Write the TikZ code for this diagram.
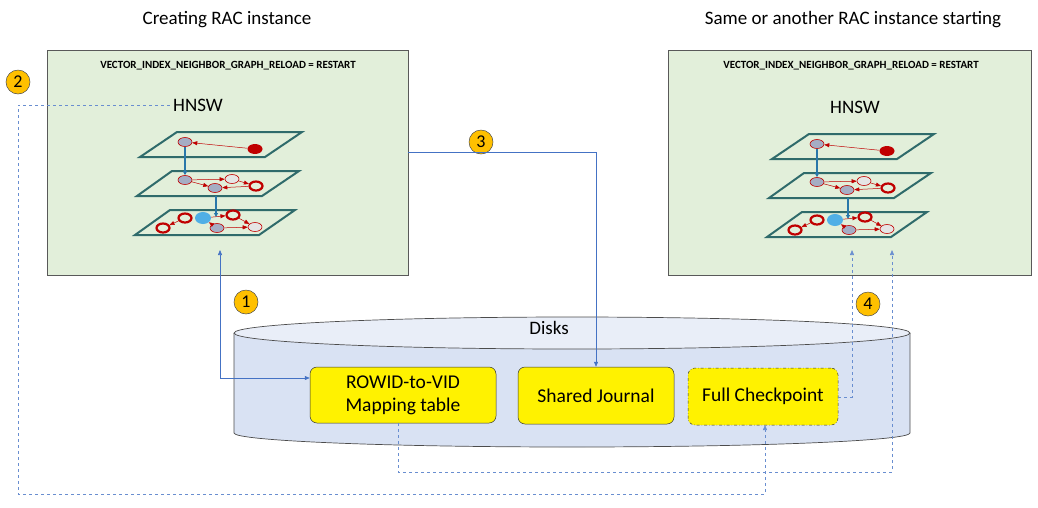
\documentclass[tikz,border=0pt]{standalone}
\usepackage{fontspec}
\setmainfont{Carlito}
\usetikzlibrary{arrows.meta,shapes.geometric,positioning}
\definecolor{boxgreen}{HTML}{E2EFDA}
\definecolor{linkblue}{HTML}{4472C4}
\definecolor{layerteal}{HTML}{2F6B6B}
\definecolor{diskbody}{HTML}{D9E2F3}
\definecolor{disktop}{HTML}{E9EEF8}
\definecolor{badge}{HTML}{FFC000}
\definecolor{vred}{HTML}{C00000}
\definecolor{vgrayfill}{HTML}{A5ADC4}
\tikzset{
  instance/.style={draw=gray!70!black,fill=boxgreen,line width=0.6pt},
  layer/.style={draw=layerteal,line width=2pt},
  vgray/.style={ellipse,draw=vred,fill=vgrayfill,minimum width=14pt,minimum height=9pt,inner sep=0pt,line width=0.6pt},
  vlight/.style={vgray,fill=gray!20},
  vring/.style={ellipse,draw=vred,line width=2.2pt,minimum width=13pt,minimum height=9pt,inner sep=0pt},
  vfull/.style={ellipse,fill=vred,minimum width=15pt,minimum height=10pt,inner sep=0pt},
  vcyan/.style={ellipse,fill=cyan!80!blue!70,minimum width=16pt,minimum height=12pt,inner sep=0pt},
  edge/.style={draw=vred,line width=0.5pt,-{Triangle[length=5pt,width=4pt]}},
  down/.style={draw=linkblue!60!teal,line width=1.2pt,-{Triangle[length=4pt,width=4pt]}},
  badgenum/.style={circle,fill=badge,draw=gray!60!black,line width=0.5pt,minimum size=24pt,inner sep=0pt,font=\fontsize{18}{18}\selectfont},
  store/.style={draw=black!80,fill=yellow,rounded corners=7pt,align=center,font=\fontsize{19.5}{23}\selectfont,line width=0.5pt},
  link/.style={draw=linkblue,line width=0.6pt,-{Triangle[length=5pt,width=4pt]}},
  dlink/.style={link,dashed,draw=linkblue!80},
  big/.style={font=\fontsize{19}{22}\selectfont}
}
\begin{document}
\begin{tikzpicture}[x=1pt,y=-1pt]
\useasboundingbox (0,0) rectangle (1038,507);
% instance boxes
\draw[instance] (47,50) rectangle (408,275);
\draw[instance] (668,50) rectangle (1031,275);
\node[big] (title1) at (227,20) {Creating RAC instance};
\node[big] (title2) at (853,20) {Same or another RAC instance starting};
\node[font=\fontsize{11}{12}\bfseries\selectfont] (param1) at (228,66) {VECTOR\_INDEX\_NEIGHBOR\_GRAPH\_RELOAD = RESTART};
\node[font=\fontsize{11}{12}\bfseries\selectfont] (param2) at (851,66) {VECTOR\_INDEX\_NEIGHBOR\_GRAPH\_RELOAD = RESTART};
\node[big] (hnsw1) at (198,105) {HNSW};
\node[big] (hnsw2) at (855,107) {HNSW};

% HNSW layers
\foreach \dx/\dy/\n in {0/0/a,632/2/b}{
  \begin{scope}[shift={(\dx,\dy)}]
    \draw[layer] (177,132) -- (302,132) -- (265,157) -- (140,157) -- cycle;
    \draw[layer] (172,171) -- (299,171) -- (262,196) -- (137,196) -- cycle;
    \draw[layer] (170,210) -- (295,210) -- (259,235) -- (135,235) -- cycle;
    % top layer
    \node[vgray] (t1\n) at (185,142) {};
    \node[vfull] (t2\n) at (255,149) {};
    \draw[edge] (t2\n) -- (t1\n);
    % middle layer
    \node[vgray] (m1\n) at (185,180) {};
    \node[vlight] (m2\n) at (232,179) {};
    \node[vgray] (m3\n) at (215,188) {};
    \node[vring] (m4\n) at (256,186) {};
    \draw[edge] (m1\n) -- (m2\n);
    \draw[edge] (m1\n) -- (m3\n);
    \draw[edge] (m2\n) -- (m4\n);
    \draw[edge] (m4\n) -- (m3\n);
    % bottom layer
    \node[vring] (b1\n) at (163,228) {};
    \node[vring] (b2\n) at (185,218) {};
    \node[vcyan] (b3\n) at (203,218) {};
    \node[vring] (b4\n) at (233,215) {};
    \node[vgray] (b5\n) at (217,228) {};
    \node[vlight] (b6\n) at (255,227) {};
    \draw[edge] (b2\n) -- (b1\n);
    \draw[edge] (b3\n) -- (b4\n);
    \draw[edge] (b5\n) -- (b3\n);
    \draw[edge] (b4\n) -- (b6\n);
    \draw[edge] (b5\n) -- (b6\n);
    % descent between layers
    \draw[down] (t1\n.south) -- (m1\n.north);
    \draw[down] (216,196) -- (216,217);
  \end{scope}
}

% disks
\fill[diskbody] (234,333) -- (234,433) arc[start angle=180,end angle=0,x radius=338,y radius=14] -- (910,333) -- cycle;
\draw[black!70,line width=0.7pt] (234,333) -- (234,433) arc[start angle=180,end angle=0,x radius=338,y radius=14] -- (910,333);
\draw[black!70,fill=disktop,line width=0.7pt] (572,333) ellipse[x radius=338,y radius=16];
\node[big] (disks) at (549,328) {Disks};

\node[store,minimum width=186pt,minimum height=56pt] (rowid) at (403,395) {ROWID-to-VID\\Mapping table};
\node[store,minimum width=156pt,minimum height=57pt] (journal) at (596,395.5) {Shared Journal};
\node[store,dash dot,minimum width=150pt,minimum height=57pt] (ckpt) at (763,396.5) {Full Checkpoint};

% steps
\node[badgenum] (s1) at (246,302) {1};
\node[badgenum] (s2) at (18,82) {2};
\node[badgenum] (s3) at (481,142) {3};
\node[badgenum] (s4) at (868,304) {4};

% connectors
\coordinate (in1) at (220,250);
\draw[link,{Triangle[length=5pt,width=4pt]}-{Triangle[length=5pt,width=4pt]}] (in1) |- (rowid.west |- 0,378);
\draw[link,line width=0.5pt] (408,152) -| (journal.north);
\draw[dlink] (hnsw1.west) -- (18,105) -- (18,494) -| (765,425);
\coordinate (in2) at (892,250);
\draw[dlink] (398,423) -- (398,472) -| (in2);
\coordinate (in3) at (852,250);
\draw[dlink] (ckpt.east |- 0,397) -| (in3);
\end{tikzpicture}
\end{document}
